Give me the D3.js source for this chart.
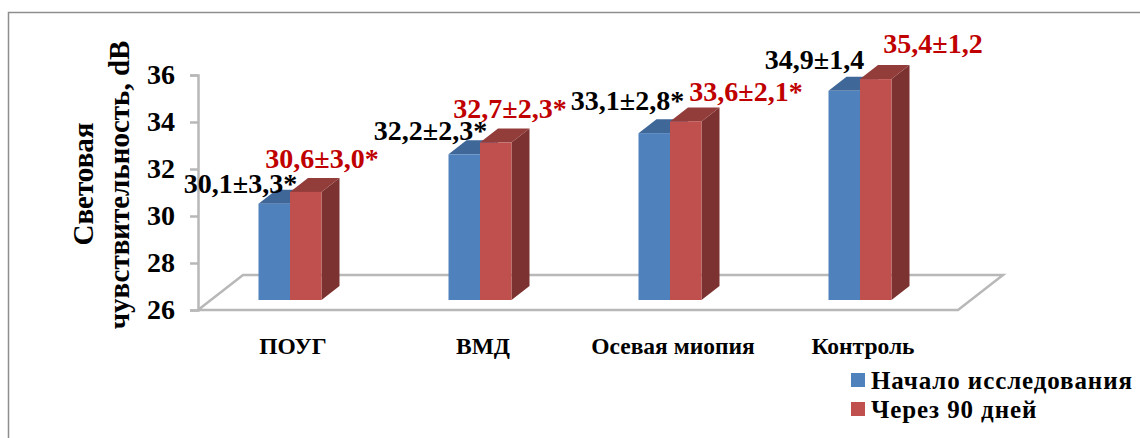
<!DOCTYPE html>
<html lang="ru">
<head>
<meta charset="utf-8">
<script src="https://cdn.jsdelivr.net/npm/d3@7/dist/d3.min.js"></script>
<style>
html,body{margin:0;padding:0;background:#fff;overflow:hidden}
svg{display:block}
text{font-family:"Liberation Serif",serif;font-weight:bold}
</style>
</head>
<body>
<svg id="chart" width="1140" height="438"></svg>
<script>
// Retinal light sensitivity by patient group, at baseline and after 90 days
const groups = ["ПОУГ", "ВМД", "Осевая миопия", "Контроль"];
const seriesNames = ["Начало исследования", "Через 90 дней"];
const startMeans = [30.1, 32.2, 33.1, 34.9];
const startSd = [3.3, 2.3, 2.8, 1.4];
const startStar = ["*", "*", "*", ""];
const laterMeans = [30.6, 32.7, 33.6, 35.4];
const laterSd = [3.0, 2.3, 2.1, 1.2];
const laterStar = ["*", "*", "*", ""];
const yTicks = [26, 28, 30, 32, 34, 36];

// Hand-placed label nudges relative to each bar's top-left corner
const startNudgeX = [-18, -18, -11, -14];
const startNudgeY = [-11, -14, -23, -22];
const laterNudgeX = [32, 30, 76, 73];
const laterNudgeY = [-24, -25, -20, -26];

const colors = {
  front: ["#4f81bd", "#c0504d"],
  top: ["#3f6797", "#933d3b"],
  side: ["#3f6797", "#7c3230"],
  grid: "#b8b8b8",
  frame: "#8e8e8e",
  later: "#c00000"
};

const svg = d3.select("#chart");

// Outer frame, open on the right and at the bottom
svg.append("path")
  .attr("d", "M8.5,438V12.5H1140")
  .attr("fill", "none")
  .attr("stroke", colors.frame)
  .attr("stroke-width", 1.5);

// Scales and the oblique offset of the 3D box
const left = 198, right = 958, floorY = 310, topY = 75;
const depth = {floorX: 45, floorY: 35, barX: 18, barY: 14, lift: 10};
const x = d3.scaleBand().domain(groups).range([left, right]);
const inner = d3.scaleBand().domain(d3.range(seriesNames.length)).range([0, 63]);
const y = d3.scaleLinear().domain([26, 36]).range([floorY, topY]);

// Floor of the 3D box
svg.append("path")
  .attr("d", d3.line()([
    [left, floorY], [left + depth.floorX, floorY - depth.floorY],
    [right + depth.floorX, floorY - depth.floorY], [right, floorY], [left, floorY]
  ]))
  .attr("fill", "none")
  .attr("stroke", colors.grid)
  .attr("stroke-width", 2.5);

// Value axis
const axis = svg.append("g")
  .attr("transform", `translate(${left},0)`)
  .call(d3.axisLeft(y).tickValues(yTicks).tickSize(8).tickPadding(15).tickFormat(d3.format("d")));
axis.selectAll("path,line").attr("stroke", colors.grid).attr("stroke-width", 2.5);
axis.selectAll("text").attr("font-size", 28).attr("fill", "#000").attr("dy", "0.32em");

// Axis title on two rotated lines
const titleLines = ["Световая", "чувствительность, dB"];
const titleX = [93, 129];
const titleSizes = [29, 29];
titleLines.forEach((line, i) => {
  svg.append("text")
    .attr("transform", `translate(${titleX[i]},${i ? 185 : 184}) rotate(-90)`)
    .attr("text-anchor", "middle")
    .attr("font-size", titleSizes[i])
    .text(line);
});

// Bars: every bar is a front face, a top face and a right side face
const series = [
  {means: startMeans, sd: startSd, star: startStar},
  {means: laterMeans, sd: laterSd, star: laterStar}
];
const barLeft = (g, s) => x(g) + x.bandwidth() / 2 - 34.5 + inner(s);
const poly = d3.line();

groups.forEach((g, gi) => {
  series.forEach((ser, s) => {
    const x0 = barLeft(g, s), x1 = x0 + inner.bandwidth();
    const base = y(26) - depth.lift, top = y(ser.means[gi]) - depth.lift;
    const dx = depth.barX, dy = depth.barY;
    const bar = svg.append("g");
    bar.append("path").attr("fill", colors.side[s])
      .attr("d", poly([[x1, top], [x1 + dx, top - dy], [x1 + dx, base - dy], [x1, base]]) + "Z");
    bar.append("path").attr("fill", colors.top[s])
      .attr("d", poly([[x0, top], [x0 + dx, top - dy], [x1 + dx, top - dy], [x1, top]]) + "Z");
    bar.append("rect").attr("fill", colors.front[s])
      .attr("x", x0).attr("y", top).attr("width", x1 - x0).attr("height", base - top);
  });
});

// Value labels: mean ± SD in the decimal-comma style
const fmt = v => d3.format(".1f")(v).replace(".", ",");
groups.forEach((g, gi) => {
  const label = (ser, s, nx, ny, fill) => svg.append("text")
    .attr("x", barLeft(g, s) + nx[gi])
    .attr("y", y(ser.means[gi]) - depth.lift + ny[gi])
    .attr("text-anchor", "middle")
    .attr("font-size", 28)
    .attr("fill", fill)
    .text(`${fmt(ser.means[gi])}±${fmt(ser.sd[gi])}${ser.star[gi]}`);
  label(series[0], 0, startNudgeX, startNudgeY, "#000");
  label(series[1], 1, laterNudgeX, laterNudgeY, colors.later);
});

// Category labels
svg.append("g").selectAll("text").data(groups).join("text")
  .attr("x", d => x(d) + x.bandwidth() / 2)
  .attr("y", 354)
  .attr("text-anchor", "middle")
  .attr("font-size", 23.5)
  .text(d => d);

// Legend
const legend = svg.append("g").selectAll("g").data(seriesNames).join("g")
  .attr("transform", (d, i) => `translate(851,${373 + i * 29})`);
legend.append("rect").attr("width", 14).attr("height", 14)
  .attr("fill", (d, i) => colors.front[i]);
legend.append("text").attr("x", 20).attr("y", 16)
  .attr("font-size", 25).attr("letter-spacing", 0.9)
  .text(d => d);
</script>
</body>
</html>
